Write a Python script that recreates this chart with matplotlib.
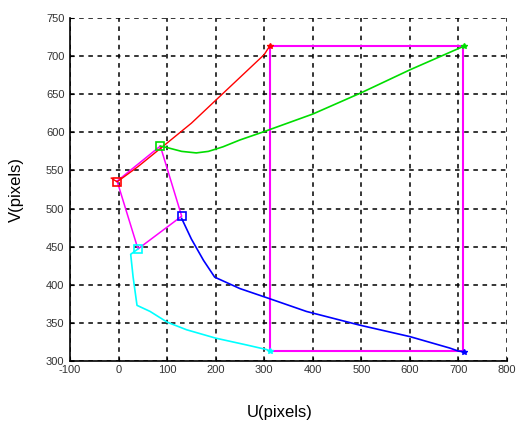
import matplotlib
matplotlib.use("Agg")
import matplotlib.pyplot as plt

plt.rcParams['font.family'] = ['Liberation Sans', 'DejaVu Sans']
plt.rcParams['axes.unicode_minus'] = False

# Trajectories (U, V)
red_u = [-15, -3, 40, 100, 150, 200, 250, 300, 311]
red_v = [540, 535, 555, 586, 612, 642, 672, 702, 713]

green_u = [86, 100, 130, 160, 185, 215, 250, 300, 400, 500, 600, 711]
green_v = [582, 580, 575, 573, 575, 581, 590, 601, 624, 652, 682, 713]

blue_u = [130, 150, 175, 198, 250, 310, 387, 497, 600, 682, 700, 712]
blue_v = [487, 460, 432, 410, 395, 382, 365, 347, 332, 317, 313, 312]

cyan_u = [40, 25, 30, 38, 65, 100, 140, 200, 264, 305, 312]
cyan_v = [447, 440, 410, 373, 365, 351, 341, 330, 321, 315, 313]

# Initial feature quadrilateral (red, green, blue, cyan squares)
quad_u = [-3, 86, 130, 40, -3]
quad_v = [536, 582, 490, 447, 536]

# Target rectangle
rect_u = [311, 710, 710, 311, 311]
rect_v = [713, 713, 313, 313, 713]

start_u = [-3, 86, 130, 40]
start_v = [535, 582, 490, 447]
start_c = ['red', '#00dd00', 'blue', 'cyan']

fig = plt.figure(figsize=(5.16, 4.28), dpi=100)
ax = fig.add_axes([70/516, 1-361/428, 437/516, 343/428])

ax.plot(rect_u, rect_v, color='magenta', lw=1.5, zorder=3)
ax.plot(quad_u, quad_v, color='magenta', lw=1.1, zorder=3)
ax.plot(red_u, red_v, color='red', lw=1.0, zorder=4)
ax.plot(green_u, green_v, color='#00dd00', lw=1.2, zorder=4)
ax.plot(blue_u, blue_v, color='blue', lw=1.2, zorder=4)
ax.plot(cyan_u, cyan_v, color='cyan', lw=1.2, zorder=4)

for u, v, c in zip(start_u, start_v, start_c):
    ax.plot([u], [v], marker='s', mfc='none', mec=c, ms=6, mew=1.2, zorder=5)

ends_u = [red_u[-1], green_u[-1], blue_u[-1], cyan_u[-1]]
ends_v = [red_v[-1], green_v[-1], blue_v[-1], cyan_v[-1]]
for u, v, c in zip(ends_u, ends_v, start_c):
    ax.plot([u], [v], marker='*', color=c, ms=4, zorder=5)

ax.set_xlim(-100, 800)
ax.set_ylim(300, 750)
ax.set_xticks(range(-100, 801, 100))
ax.set_yticks(range(300, 751, 50))
ax.grid(True, color='black', linestyle=(0, (3, 3)), linewidth=1.1)
ax.spines['top'].set_visible(False)
ax.spines['right'].set_visible(False)
ax.spines['left'].set_linewidth(1.2)
ax.spines['bottom'].set_linewidth(1.2)
ax.tick_params(direction='in', length=3, labelsize=8, labelcolor='#333333')
ax.tick_params(axis='x', pad=3)
ax.tick_params(axis='y', pad=4)

fig.text(280/516, 1-412/428, 'U(pixels)', ha='center', va='center', fontsize=12)
fig.text(16/516, 1-190/428, 'V(pixels)', ha='center', va='center', fontsize=12, rotation=90)

fig.savefig('out.png', dpi=100)
